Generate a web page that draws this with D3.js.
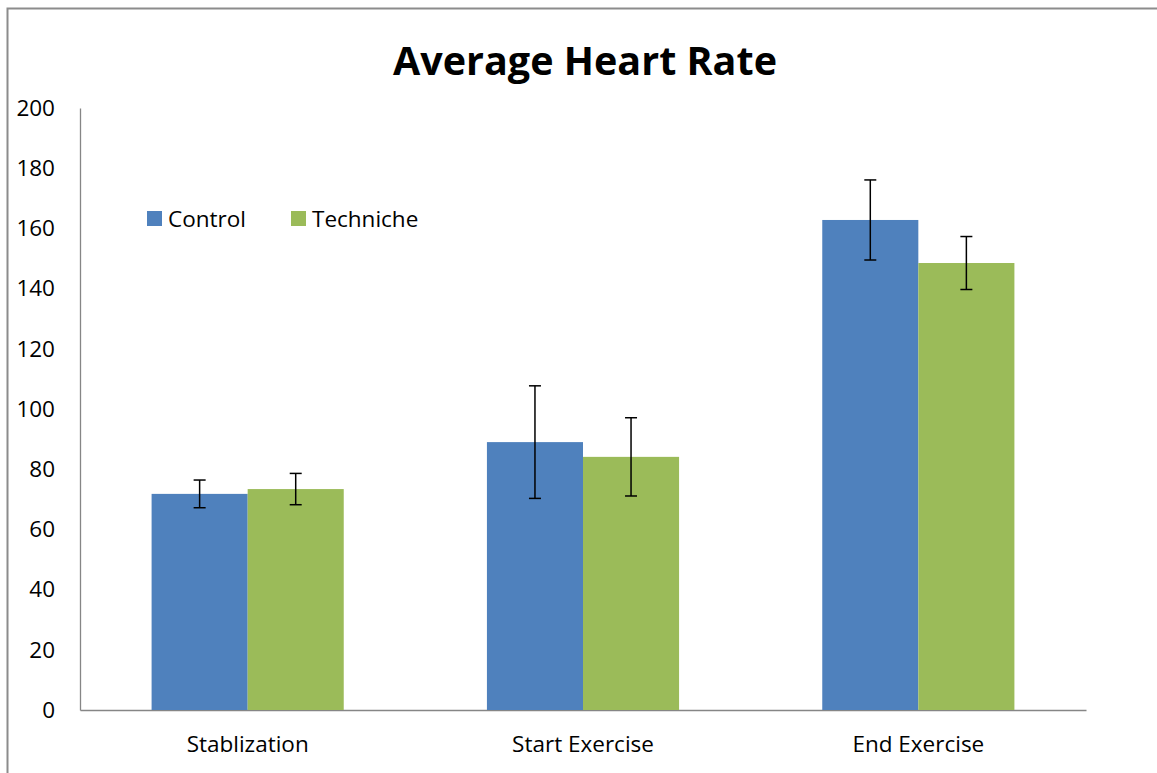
<!DOCTYPE html>
<html>
<head>
<meta charset="utf-8">
<script src="https://cdn.jsdelivr.net/npm/d3@7"></script>
<style>
  body { margin: 0; background: #fff; }
  svg { display: block; font-family: "Open Sans", "Noto Sans", sans-serif; }
</style>
</head>
<body>
<svg width="1157" height="773"></svg>
<script>
// Data
const categories = ["Stablization", "Start Exercise", "End Exercise"];
const seriesNames = ["Control", "Techniche"];
const controlValues = [71.8, 89.0, 162.8];
const technicheValues = [73.4, 84.1, 148.5];
const controlErrors = [4.6, 18.7, 13.3];
const technicheErrors = [5.2, 13.0, 8.8];
const yTicks = [0, 20, 40, 60, 80, 100, 120, 140, 160, 180, 200];

const COLORS = ["#4F81BD", "#9BBB59"];
const LABEL_SIZE = 22.5;

const svg = d3.select("svg");

// chart frame (left and top edges only visible)
svg.append("path")
    .attr("d", "M7.5,773 V8.5 H1157")
    .attr("fill", "none")
    .attr("stroke", "#8c8c8c")
    .attr("stroke-width", 2);

// plot area
const plot = {left: 80, right: 1086, top: 108, bottom: 710};

const x0 = d3.scaleBand()
    .domain(categories)
    .range([plot.left, plot.right])
    .paddingInner(0.427)
    .paddingOuter(0.2135);

const x1 = d3.scaleBand()
    .domain(seriesNames)
    .range([0, x0.bandwidth()]);

const y = d3.scaleLinear()
    .domain([0, 200])
    .range([plot.bottom, plot.top]);

// title
svg.append("text")
    .attr("x", 585)
    .attr("y", 75)
    .attr("text-anchor", "middle")
    .attr("font-size", 39.5)
    .attr("font-weight", "bold")
    .attr("fill", "#000")
    .text("Average Heart Rate");

// y axis
const yAxis = svg.append("g")
    .attr("transform", `translate(${plot.left},0)`)
    .call(d3.axisLeft(y).tickValues(yTicks).tickSize(0).tickPadding(25));
yAxis.select(".domain").attr("stroke", "#868686").attr("stroke-width", 1.3);
yAxis.selectAll("text").attr("font-size", LABEL_SIZE).attr("fill", "#000")
    .attr("font-family", "'Open Sans', sans-serif");

// x axis
const xAxis = svg.append("g")
    .attr("transform", `translate(0,${plot.bottom})`)
    .call(d3.axisBottom(x0).tickSize(0).tickPadding(26).tickSizeOuter(0));
xAxis.select(".domain").attr("stroke", "#868686").attr("stroke-width", 1.5);
xAxis.selectAll("text").attr("font-size", LABEL_SIZE).attr("fill", "#000")
    .attr("font-family", "'Open Sans', sans-serif");

// build rows
const rows = categories.map((c, i) => ({
  cat: c,
  items: [
    {name: seriesNames[0], value: controlValues[i], err: controlErrors[i], color: COLORS[0]},
    {name: seriesNames[1], value: technicheValues[i], err: technicheErrors[i], color: COLORS[1]}
  ]
}));

const groups = svg.append("g")
    .selectAll("g")
    .data(rows)
    .enter().append("g")
    .attr("transform", d => `translate(${x0(d.cat)},0)`);

groups.selectAll("rect")
    .data(d => d.items)
    .enter().append("rect")
    .attr("x", d => x1(d.name))
    .attr("width", x1.bandwidth())
    .attr("y", d => y(d.value))
    .attr("height", d => y(0) - y(d.value))
    .attr("fill", d => d.color);

// error bars
const CAP = 6;
const err = groups.selectAll("g.err")
    .data(d => d.items)
    .enter().append("g")
    .attr("class", "err")
    .attr("stroke", "#000")
    .attr("stroke-width", 1.5);

err.append("line")
    .attr("x1", d => x1(d.name) + x1.bandwidth() / 2)
    .attr("x2", d => x1(d.name) + x1.bandwidth() / 2)
    .attr("y1", d => y(d.value + d.err))
    .attr("y2", d => y(d.value - d.err));
err.append("line")
    .attr("x1", d => x1(d.name) + x1.bandwidth() / 2 - CAP)
    .attr("x2", d => x1(d.name) + x1.bandwidth() / 2 + CAP)
    .attr("y1", d => y(d.value + d.err))
    .attr("y2", d => y(d.value + d.err));
err.append("line")
    .attr("x1", d => x1(d.name) + x1.bandwidth() / 2 - CAP)
    .attr("x2", d => x1(d.name) + x1.bandwidth() / 2 + CAP)
    .attr("y1", d => y(d.value - d.err))
    .attr("y2", d => y(d.value - d.err));

// legend
const legendX = [147, 291];
const legend = svg.append("g")
    .selectAll("g")
    .data(seriesNames)
    .enter().append("g")
    .attr("transform", (d, i) => `translate(${legendX[i]},211)`);
legend.append("rect")
    .attr("width", 15)
    .attr("height", 15)
    .attr("fill", (d, i) => COLORS[i]);
legend.append("text")
    .attr("x", 21)
    .attr("y", 16)
    .attr("font-size", LABEL_SIZE)
    .attr("fill", "#000")
    .text(d => d);
</script>
</body>
</html>
